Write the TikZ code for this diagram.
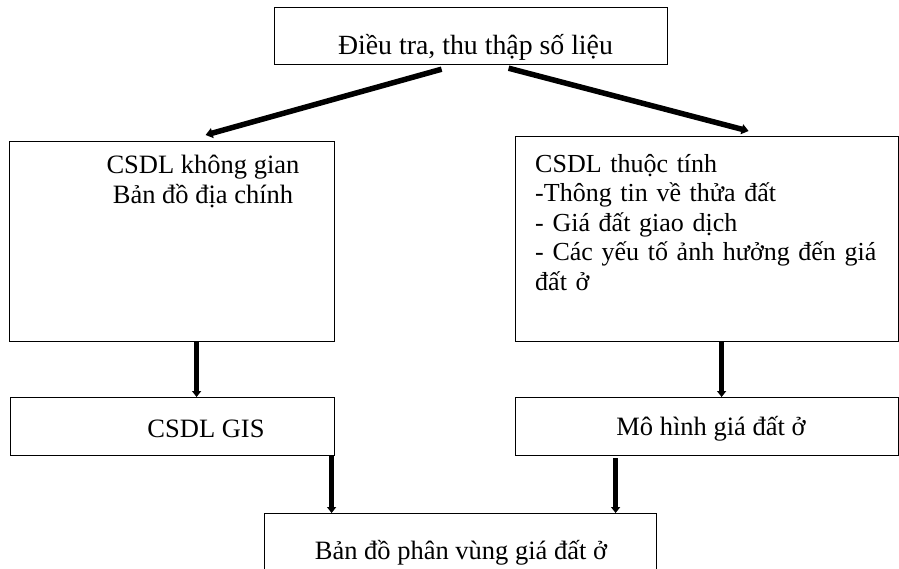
\documentclass[tikz,border=0pt]{standalone}
\usepackage{fontspec}
\setmainfont{Liberation Serif}
\usetikzlibrary{arrows.meta,calc}
\begin{document}
\begin{tikzpicture}[x=1pt,y=-1pt,
  box/.style={draw, line width=1.2pt, inner sep=0pt, anchor=north west},
  lbl/.style={font=\fontsize{26.5}{29.5}\selectfont, inner sep=0pt},
  arr/.style={line width=4.5pt, -{Triangle[length=6pt,width=9pt]}},
  darr/.style={arr, line width=5.5pt, -{Triangle[length=7pt,width=10pt]}}]
\useasboundingbox (0,0) rectangle (899,568);
\clip (0,0) rectangle (899,568);
% boxes
\node[box, minimum width=393pt, minimum height=57pt] (top) at (274,7) {};
\node[box, minimum width=325pt, minimum height=200pt] (lbox) at (9,141) {};
\node[box, minimum width=383pt, minimum height=205pt] (rbox) at (515,136) {};
\node[box, minimum width=324pt, minimum height=58pt] (gis) at (10,397) {};
\node[box, minimum width=383pt, minimum height=58pt] (mh) at (515,397) {};
\node[box, minimum width=392pt, minimum height=70pt] (bot) at (264,513) {};
% texts
\node[lbl, font=\fontsize{27.8}{29.5}\selectfont, anchor=base] (t0) at (475.5,54) {Điều tra, thu thập số liệu};
\node[lbl, anchor=north, align=center] (t1) at (203,155) {CSDL không gian\\Bản đồ địa chính};
\node[lbl, font=\fontsize{26}{29.5}\selectfont, anchor=north west, text width=352pt, align=left] (t2) at (535,154)
  {CSDL thuộc tính\\-Thông tin về thửa đất\\- Giá đất giao dịch\\\makebox[\linewidth][s]{- Các yếu tố ảnh hưởng đến giá}\\đất ở};
\node[lbl, anchor=base] (t3) at (206,437) {CSDL GIS};
\node[lbl, anchor=base] (t4) at (711,435) {Mô hình giá đất ở};
\node[lbl, anchor=base] (t5) at (461,559) {Bản đồ phân vùng giá đất ở};
% connectors
\draw[darr] ([xshift=-29.5pt,yshift=-4pt]top.south) -- ([xshift=33.5pt,yshift=6pt]lbox.north);
\draw[darr] ([xshift=37.5pt,yshift=-3pt]top.south) -- ([xshift=41.5pt,yshift=5pt]rbox.north);
\draw[arr] ([xshift=24.5pt]lbox.south) -- ([xshift=24.5pt]lbox.south |- gis.north);
\draw[arr] ([xshift=14.5pt]rbox.south) -- ([xshift=14.5pt]rbox.south |- mh.north);
\draw[arr] ([xshift=159pt]gis.south) -- ([xshift=159pt]gis.south |- bot.north);
\draw[arr] ([xshift=-91.5pt,yshift=-2pt]mh.south) -- ([xshift=-91.5pt]mh.south |- bot.north);
\end{tikzpicture}
\end{document}
